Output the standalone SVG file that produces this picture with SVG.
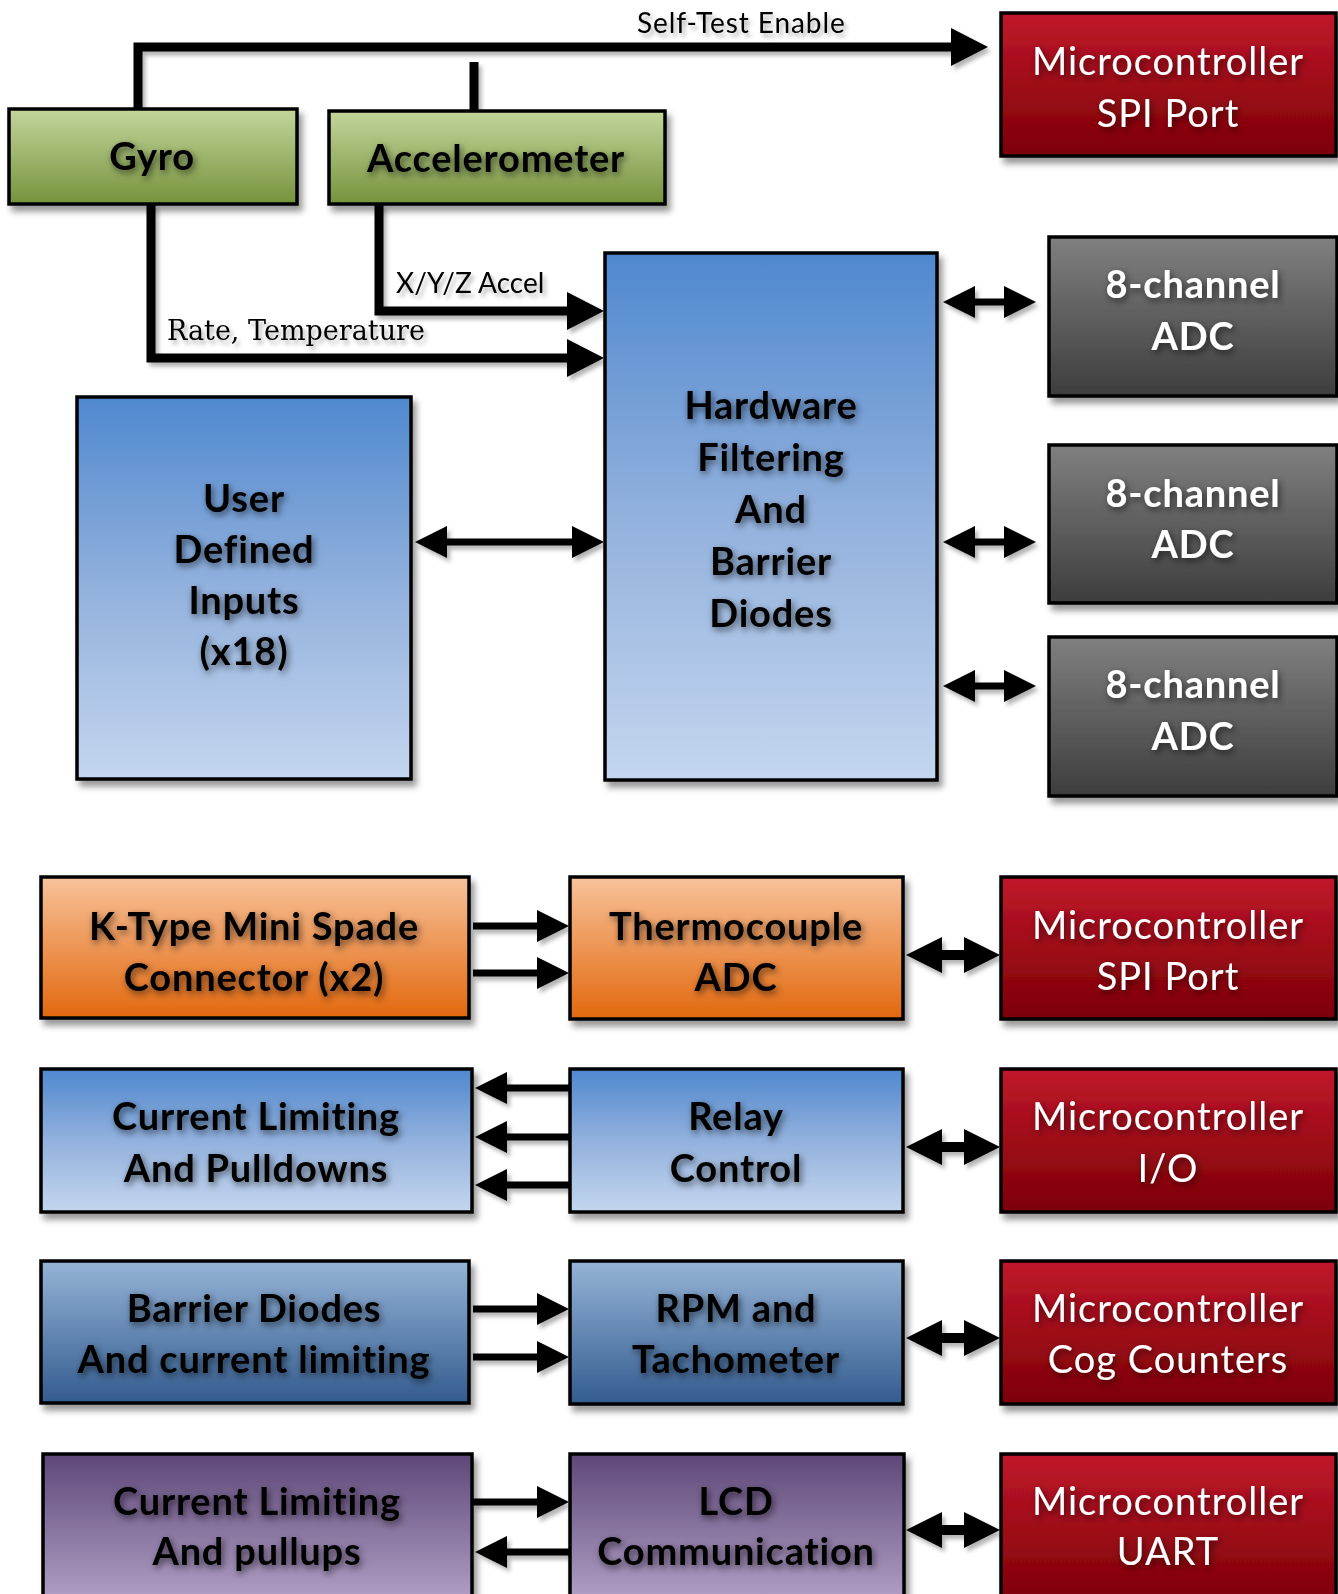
<svg xmlns="http://www.w3.org/2000/svg" width="1338" height="1594" viewBox="0 0 1338 1594">
<defs>
<linearGradient id="gGreen" x1="0" y1="0" x2="0" y2="1"><stop offset="0" stop-color="#c3d69b"/><stop offset="1" stop-color="#76923c"/></linearGradient>
<linearGradient id="gRed" x1="0" y1="0" x2="0" y2="1"><stop offset="0" stop-color="#c0172a"/><stop offset="1" stop-color="#7c0006"/></linearGradient>
<linearGradient id="gGray" x1="0" y1="0" x2="0" y2="1"><stop offset="0" stop-color="#808080"/><stop offset="1" stop-color="#3d3d3d"/></linearGradient>
<linearGradient id="gBlue" x1="0" y1="0" x2="0" y2="1"><stop offset="0" stop-color="#4f88cf"/><stop offset="0.5" stop-color="#92b1dd"/><stop offset="1" stop-color="#c4d6ee"/></linearGradient>
<linearGradient id="gOrange" x1="0" y1="0" x2="0" y2="1"><stop offset="0" stop-color="#f8c29a"/><stop offset="1" stop-color="#e2680e"/></linearGradient>
<linearGradient id="gSteel" x1="0" y1="0" x2="0" y2="1"><stop offset="0" stop-color="#95b3d7"/><stop offset="1" stop-color="#335c8e"/></linearGradient>
<linearGradient id="gPurple" x1="0" y1="0" x2="0" y2="1"><stop offset="0" stop-color="#5e4878"/><stop offset="1" stop-color="#b2a1c7"/></linearGradient>
<filter id="boxShadow" x="-10%" y="-10%" width="125%" height="130%"><feDropShadow dx="4" dy="6" stdDeviation="3" flood-color="#000" flood-opacity="0.4"/></filter>
<filter id="txtShadow" x="-10%" y="-30%" width="125%" height="170%"><feDropShadow dx="2" dy="3" stdDeviation="3.5" flood-color="#000" flood-opacity="0.6"/></filter>
<filter id="lineShadow" x="-5%" y="-10%" width="115%" height="130%"><feDropShadow dx="3" dy="4" stdDeviation="2" flood-color="#000" flood-opacity="0.3"/></filter>
<marker id="mA" markerUnits="userSpaceOnUse" viewBox="0 0 37 38" refX="0" refY="19" markerWidth="37" markerHeight="38" orient="auto-start-reverse"><path d="M0,0 L37,19 L0,38 Z" fill="#000"/></marker>
<marker id="mB" markerUnits="userSpaceOnUse" viewBox="0 0 32 32" refX="0" refY="16" markerWidth="32" markerHeight="32" orient="auto-start-reverse"><path d="M0,0 L32,16 L0,32 Z" fill="#000"/></marker>
<marker id="mC" markerUnits="userSpaceOnUse" viewBox="0 0 36 36" refX="0" refY="18" markerWidth="36" markerHeight="36" orient="auto-start-reverse"><path d="M0,0 L36,18 L0,36 Z" fill="#000"/></marker>
</defs>
<style>
.box{stroke:#000;stroke-width:3.5;filter:url(#boxShadow)}
.lb{font-family:Lato,"Open Sans",sans-serif;font-weight:bold;font-size:38px;letter-spacing:0.8px;fill:#000;text-anchor:middle;filter:url(#txtShadow)}
.lw{font-family:Lato,"Open Sans",sans-serif;font-weight:bold;font-size:38px;letter-spacing:0.8px;fill:#fff;text-anchor:middle;filter:url(#txtShadow)}
.lr{font-family:Lato,"Open Sans",sans-serif;font-weight:normal;font-size:38px;letter-spacing:1px;fill:#fff;text-anchor:middle;filter:url(#txtShadow)}
.lab{font-family:Lato,"Open Sans",sans-serif;font-size:28px;fill:#000}
.labs{font-family:"DejaVu Serif","Liberation Serif",serif;font-size:27px;fill:#000}
.c9{fill:none;stroke:#000;stroke-width:9}
.c7{fill:none;stroke:#000;stroke-width:7}
.c10{fill:none;stroke:#000;stroke-width:10}
</style>
<rect width="1338" height="1594" fill="#fff"/>

<g id="connectors" filter="url(#lineShadow)">
<path class="c9" d="M138,108 V47 H951" marker-end="url(#mA)"/>
<path class="c9" d="M474,62 V110"/>
<path class="c9" d="M151,204 V358 H567" marker-end="url(#mA)"/>
<path class="c9" d="M379,204 V311 H567" marker-end="url(#mA)"/>
<path class="c7" d="M447,542 H572" marker-start="url(#mB)" marker-end="url(#mB)"/>
<path class="c7" d="M975,302 H1004" marker-start="url(#mB)" marker-end="url(#mB)"/>
<path class="c7" d="M975,542 H1004" marker-start="url(#mB)" marker-end="url(#mB)"/>
<path class="c7" d="M975,686 H1004" marker-start="url(#mB)" marker-end="url(#mB)"/>
<path class="c7" d="M473,926 H537" marker-end="url(#mB)"/>
<path class="c7" d="M473,973 H537" marker-end="url(#mB)"/>
<path class="c10" d="M942,955 H964" marker-start="url(#mC)" marker-end="url(#mC)"/>
<path class="c7" d="M569,1088 H507" marker-end="url(#mB)"/>
<path class="c7" d="M569,1137 H507" marker-end="url(#mB)"/>
<path class="c7" d="M569,1185 H507" marker-end="url(#mB)"/>
<path class="c10" d="M942,1147 H964" marker-start="url(#mC)" marker-end="url(#mC)"/>
<path class="c7" d="M473,1309 H537" marker-end="url(#mB)"/>
<path class="c7" d="M473,1357 H537" marker-end="url(#mB)"/>
<path class="c10" d="M942,1338 H964" marker-start="url(#mC)" marker-end="url(#mC)"/>
<path class="c7" d="M473,1502 H537" marker-end="url(#mB)"/>
<path class="c7" d="M569,1552 H507" marker-end="url(#mB)"/>
<path class="c10" d="M942,1530 H964" marker-start="url(#mC)" marker-end="url(#mC)"/>
<text class="lab" x="637" y="33" letter-spacing="0.9">Self-Test Enable</text>
<text class="lab" x="396" y="293">X/Y/Z Accel</text>
<text class="labs" x="167" y="340">Rate, Temperature</text>
</g>

<g id="gyro"><rect class="box" x="9" y="109" width="288" height="95" fill="url(#gGreen)"/><text class="lb" x="152" y="170">Gyro</text></g>
<g id="accelerometer"><rect class="box" x="329" y="111" width="336" height="93" fill="url(#gGreen)"/><text class="lb" x="496" y="172">Accelerometer</text></g>
<g id="mcu-spi-top"><rect class="box" x="1001" y="13" width="335" height="143" fill="url(#gRed)"/><text class="lr" x="1168" y="75">Microcontroller</text><text class="lr" x="1168" y="127">SPI Port</text></g>
<g id="hardware"><rect class="box" x="605" y="253" width="332" height="527" fill="url(#gBlue)"/>
<text class="lb" x="771" y="419">Hardware</text><text class="lb" x="771" y="471">Filtering</text><text class="lb" x="771" y="523">And</text><text class="lb" x="771" y="575">Barrier</text><text class="lb" x="771" y="627">Diodes</text></g>
<g id="adc1"><rect class="box" x="1049" y="237" width="288" height="159" fill="url(#gGray)"/><text class="lw" x="1193" y="298">8-channel</text><text class="lw" x="1193" y="350">ADC</text></g>
<g id="adc2"><rect class="box" x="1049" y="445" width="288" height="158" fill="url(#gGray)"/><text class="lw" x="1193" y="507">8-channel</text><text class="lw" x="1193" y="558">ADC</text></g>
<g id="adc3"><rect class="box" x="1049" y="637" width="288" height="159" fill="url(#gGray)"/><text class="lw" x="1193" y="698">8-channel</text><text class="lw" x="1193" y="750">ADC</text></g>
<g id="user-inputs"><rect class="box" x="77" y="397" width="334" height="382" fill="url(#gBlue)"/>
<text class="lb" x="244" y="512">User</text><text class="lb" x="244" y="563">Defined</text><text class="lb" x="244" y="614">Inputs</text><text class="lb" x="244" y="665">(x18)</text></g>

<g id="ktype"><rect class="box" x="41" y="877" width="428" height="141" fill="url(#gOrange)"/><text class="lb" x="254" y="940">K-Type Mini Spade</text><text class="lb" x="254" y="991">Connector (x2)</text></g>
<g id="thermocouple"><rect class="box" x="570" y="877" width="333" height="142" fill="url(#gOrange)"/><text class="lb" x="736" y="940">Thermocouple</text><text class="lb" x="736" y="991">ADC</text></g>
<g id="mcu-spi"><rect class="box" x="1001" y="877" width="335" height="142" fill="url(#gRed)"/><text class="lr" x="1168" y="939">Microcontroller</text><text class="lr" x="1168" y="990">SPI Port</text></g>

<g id="current-pulldowns"><rect class="box" x="41" y="1069" width="431" height="143" fill="url(#gBlue)"/><text class="lb" x="256" y="1130">Current Limiting</text><text class="lb" x="256" y="1182">And Pulldowns</text></g>
<g id="relay"><rect class="box" x="570" y="1069" width="333" height="143" fill="url(#gBlue)"/><text class="lb" x="736" y="1130">Relay</text><text class="lb" x="736" y="1182">Control</text></g>
<g id="mcu-io"><rect class="box" x="1001" y="1069" width="335" height="143" fill="url(#gRed)"/><text class="lr" x="1168" y="1130">Microcontroller</text><text class="lr" x="1168" y="1182">I/O</text></g>

<g id="barrier"><rect class="box" x="41" y="1261" width="428" height="142" fill="url(#gSteel)"/><text class="lb" x="254" y="1322">Barrier Diodes</text><text class="lb" x="254" y="1373">And current limiting</text></g>
<g id="rpm"><rect class="box" x="570" y="1261" width="333" height="143" fill="url(#gSteel)"/><text class="lb" x="736" y="1322">RPM and</text><text class="lb" x="736" y="1373">Tachometer</text></g>
<g id="mcu-cog"><rect class="box" x="1001" y="1261" width="335" height="143" fill="url(#gRed)"/><text class="lr" x="1168" y="1322">Microcontroller</text><text class="lr" x="1168" y="1373">Cog Counters</text></g>

<g id="current-pullups"><rect class="box" x="43" y="1454" width="429" height="150" fill="url(#gPurple)"/><text class="lb" x="257" y="1515">Current Limiting</text><text class="lb" x="257" y="1565">And pullups</text></g>
<g id="lcd"><rect class="box" x="570" y="1454" width="334" height="150" fill="url(#gPurple)"/><text class="lb" x="736" y="1515">LCD</text><text class="lb" x="736" y="1565">Communication</text></g>
<g id="mcu-uart"><rect class="box" x="1001" y="1454" width="335" height="150" fill="url(#gRed)"/><text class="lr" x="1168" y="1515">Microcontroller</text><text class="lr" x="1168" y="1565">UART</text></g>
</svg>
